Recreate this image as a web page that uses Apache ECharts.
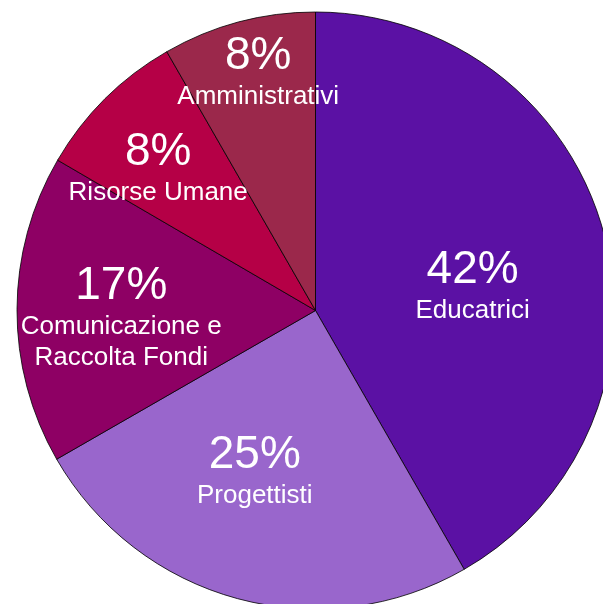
<!DOCTYPE html>
<html>
<head>
<meta charset="utf-8">
<style>
html,body{margin:0;padding:0;background:#fff;}
#chart{width:603px;height:604px;}
</style>
<script src="https://cdn.jsdelivr.net/npm/echarts@6/dist/echarts.min.js"></script>
</head>
<body>
<div id="chart"></div>
<script>
const categories = ['Educatrici', 'Progettisti', 'Comunicazione e\nRaccolta Fondi', 'Risorse Umane', 'Amministrativi'];
const values = [41.7, 25, 16.7, 8.3, 8.3];
const colors = ['#5b11a4', '#9966cc', '#8e0064', '#b50046', '#9b284b'];
// label nudges (style only)
const labelShift = [[10, 15], [-21, 13], [-42, 7], [-50, -35], [-18, -92]];

const chart = echarts.init(document.getElementById('chart'), null, {renderer: 'canvas'});
chart.setOption({
  animation: false,
  series: [{
    type: 'pie',
    center: [315.5, 310.5],
    radius: 298.5,
    startAngle: 90,
    clockwise: true,
    percentPrecision: 0,
    avoidLabelOverlap: false,
    silent: true,
    itemStyle: {borderColor: '#000', borderWidth: 0.8},
    label: {
      show: true,
      position: 'inside',
      color: '#fff',
      fontFamily: '"Liberation Sans", Arial, Helvetica, sans-serif',
      formatter: p => '{p|' + p.percent + '%}\n' + p.name.split('\n').map(s => '{n|' + s + '}').join('\n'),
      rich: {
        p: {fontSize: 46, lineHeight: 50, color: '#fff', fontFamily: '"Liberation Sans", Arial, sans-serif', align: 'center'},
        n: {fontSize: 26, lineHeight: 31, color: '#fff', fontFamily: '"Liberation Sans", Arial, sans-serif', align: 'center'}
      }
    },
    labelLine: {show: false},
    labelLayout: p => ({dx: labelShift[p.dataIndex][0], dy: labelShift[p.dataIndex][1]}),
    data: categories.map((c, i) => ({name: c, value: values[i], itemStyle: {color: colors[i]}}))
  }]
});
</script>
</body>
</html>
